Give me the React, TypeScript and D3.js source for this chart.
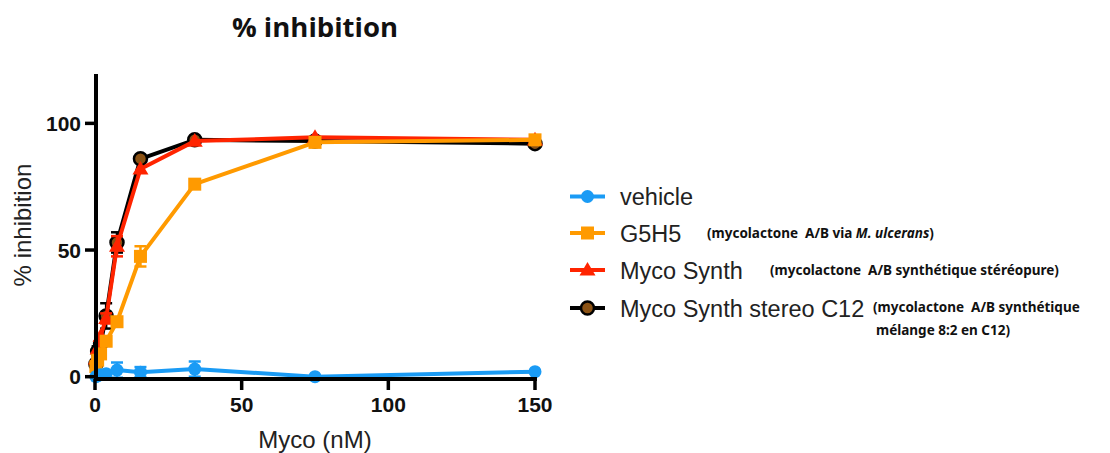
import React from "react";
import * as d3 from "d3";

const doses = [0.3, 0.9, 1.9, 3.8, 7.5, 15.5, 34, 75, 150];
const vehicleVals = [0, 0.4, 0.8, 1.2, 2.6, 1.8, 3, 0, 2];
const vehicleErr = [0.5, 0.5, 0.5, 0.5, 3, 2, 3, 0, 0];
const g5h5Vals = [4, 6.5, 9, 14, 21.7, 47.5, 76, 92.5, 93.5];
const g5h5Err = [1, 1, 1, 1, 1, 4, 1, 1, 1];
const synthVals = [7, 11, 16, 23, 51.5, 82, 93, 94.5, 93.5];
const synthErr = [1, 1, 1, 2, 4, 1, 1, 1, 1];
const c12Vals = [5, 10, 13, 24, 53, 86, 93.5, 93, 92];
const c12Err = [1, 2, 2, 5, 4, 1, 1, 1, 1];

const xTicks = [0, 50, 100, 150];
const yTicks = [0, 50, 100];

const legendNames = ["vehicle", "G5H5", "Myco Synth", "Myco Synth stereo C12"];

export default function App() {
  const x = d3.scaleLinear().domain([0, 150]).range([95, 535]);
  const y = d3.scaleLinear().domain([0, 120]).range([376.7, 72.7]);

  const series = [
    { key: "c12", vals: c12Vals, err: c12Err, color: "#000000", marker: "circleBrown" },
    { key: "synth", vals: synthVals, err: synthErr, color: "#FF2400", marker: "triangle" },
    { key: "g5h5", vals: g5h5Vals, err: g5h5Err, color: "#FF9A00", marker: "square" },
    { key: "vehicle", vals: vehicleVals, err: vehicleErr, color: "#1A9BF5", marker: "circle" },
  ];

  const line = d3
    .line<[number, number]>()
    .x((d) => x(d[0]))
    .y((d) => y(d[1]));

  const marker = (m: string, color: string, cx: number, cy: number, k: string) => {
    if (m === "circle") return <circle key={k} cx={cx} cy={cy} r={6.5} fill={color} />;
    if (m === "circleBrown")
      return <circle key={k} cx={cx} cy={cy} r={6.5} fill="#8B5214" stroke="#000" strokeWidth={2.5} />;
    if (m === "square")
      return <rect key={k} x={cx - 6.5} y={cy - 6.5} width={13} height={13} fill={color} />;
    const s = 8;
    return (
      <path
        key={k}
        d={`M${cx},${cy - s} L${cx + s},${cy + s * 0.7} L${cx - s},${cy + s * 0.7} Z`}
        fill={color}
      />
    );
  };

  const legendColors = ["#1A9BF5", "#FF9A00", "#FF2400", "#000000"];
  const legendMarkers = ["circle", "square", "triangle", "circleBrown"];
  const legendY = [196.5, 233, 270, 308];
  const noteFont = "'Noto Sans', 'Open Sans', sans-serif";
  const noteStyle = { whiteSpace: "pre" as const };

  return (
    <svg width={1110} height={453} style={{ position: "absolute", left: 0, top: 0, background: "#fff" }}>
      <rect width={1110} height={453} fill="#fff" />
      <text x={315} y={37} textAnchor="middle" fontFamily="'Open Sans', sans-serif" fontWeight="bold" fontSize={27.5} fill="#111">
        % inhibition
      </text>

      {series.map((s) => {
        const pts: [number, number][] = doses.map((d, i) => [d, s.vals[i]]);
        return (
          <g key={s.key}>
            <path d={line(pts) || ""} fill="none" stroke={s.color} strokeWidth={4} strokeLinejoin="round" />
            {pts.map((p, i) =>
              s.err[i] > 1.5 ? (
                <g key={"e" + i} stroke={s.color} strokeWidth={2.5}>
                  <line x1={x(p[0])} x2={x(p[0])} y1={y(p[1] - s.err[i])} y2={y(p[1] + s.err[i])} />
                  <line x1={x(p[0]) - 6} x2={x(p[0]) + 6} y1={y(p[1] + s.err[i])} y2={y(p[1] + s.err[i])} />
                  <line x1={x(p[0]) - 6} x2={x(p[0]) + 6} y1={y(p[1] - s.err[i])} y2={y(p[1] - s.err[i])} />
                </g>
              ) : null
            )}
            {pts.map((p, i) => marker(s.marker, s.color, x(p[0]), y(p[1]), s.key + i))}
          </g>
        );
      })}

      <line x1={96} x2={96} y1={74} y2={381} stroke="#000" strokeWidth={4} />
      <line x1={94} x2={537} y1={379} y2={379} stroke="#000" strokeWidth={4} />
      {yTicks.map((t) => (
        <g key={"y" + t}>
          <line x1={85} x2={96} y1={y(t)} y2={y(t)} stroke="#000" strokeWidth={3.5} />
          <text x={81} y={y(t) + 7.5} textAnchor="end" fontFamily="'Liberation Sans', Arial, sans-serif" fontWeight="bold" fontSize={21} fill="#111">
            {t}
          </text>
        </g>
      ))}
      {xTicks.map((t) => (
        <g key={"x" + t}>
          <line x1={x(t)} x2={x(t)} y1={379} y2={390} stroke="#000" strokeWidth={3.5} />
          <text x={x(t)} y={412} textAnchor="middle" fontFamily="'Liberation Sans', Arial, sans-serif" fontWeight="bold" fontSize={21} fill="#111">
            {t}
          </text>
        </g>
      ))}
      <text x={315} y={448} textAnchor="middle" fontFamily="'Liberation Sans', Arial, sans-serif" fontSize={24} fill="#222">
        Myco (nM)
      </text>
      <text
        transform="translate(31,225) rotate(-90)"
        textAnchor="middle"
        fontFamily="'Liberation Sans', Arial, sans-serif"
        fontSize={24}
        fill="#222"
      >
        % inhibition
      </text>

      {legendNames.map((n, i) => (
        <g key={n}>
          <line x1={570} x2={605} y1={legendY[i]} y2={legendY[i]} stroke={legendColors[i]} strokeWidth={4} />
          {marker(legendMarkers[i], legendColors[i], 587.5, legendY[i], "lm" + i)}
          <text x={620} y={legendY[i] + 8.5} fontFamily="'Liberation Sans', Arial, sans-serif" fontSize={23.5} fill="#222">
            {n}
          </text>
        </g>
      ))}
      <text x={707} y={238} fontFamily={noteFont} fontWeight="bold" fontSize={13.5} fill="#111" style={noteStyle}>
        {"(mycolactone  A/B via "}<tspan fontStyle="italic">M. ulcerans</tspan>)
      </text>
      <text x={770} y={275} fontFamily={noteFont} fontWeight="bold" fontSize={13.5} fill="#111" style={noteStyle}>
        {"(mycolactone  A/B synthétique stéréopure)"}
      </text>
      <text x={873} y={312} fontFamily={noteFont} fontWeight="bold" fontSize={13.5} fill="#111" style={noteStyle}>
        {"(mycolactone  A/B synthétique"}
      </text>
      <text x={876} y={335} fontFamily={noteFont} fontWeight="bold" fontSize={13.5} fill="#111" style={noteStyle}>
        mélange 8:2 en C12)
      </text>
    </svg>
  );
}
